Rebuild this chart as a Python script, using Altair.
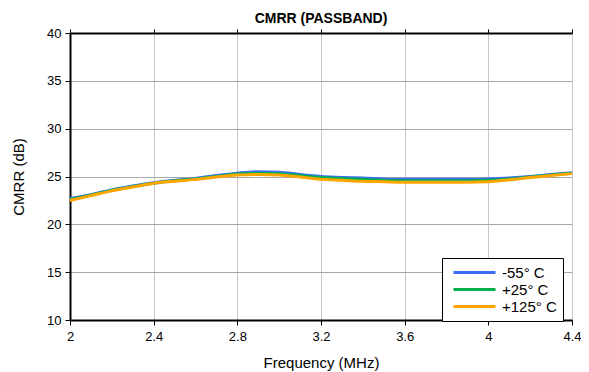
import altair as alt
import pandas as pd

freq = [2.0, 2.1, 2.2, 2.3, 2.4, 2.5, 2.6, 2.7, 2.8, 2.9, 3.0, 3.1, 3.2, 3.3, 3.4, 3.5,
        3.6, 3.7, 3.8, 3.9, 4.0, 4.1, 4.2, 4.3, 4.4]
cmrr_m55 = [22.7, 23.1, 23.6, 24.0, 24.35, 24.6, 24.8, 25.1, 25.35, 25.5, 25.45, 25.2, 25.0,
            24.9, 24.85, 24.75, 24.7, 24.7, 24.7, 24.7, 24.75, 24.85, 25.0, 25.2, 25.4]
cmrr_p25 = [22.6, 23.05, 23.55, 23.95, 24.3, 24.55, 24.75, 25.0, 25.25, 25.35, 25.3, 25.1, 24.9,
            24.8, 24.7, 24.6, 24.55, 24.55, 24.55, 24.55, 24.6, 24.75, 24.95, 25.15, 25.35]
cmrr_p125 = [22.5, 23.0, 23.5, 23.9, 24.3, 24.5, 24.7, 24.95, 25.15, 25.2, 25.15, 24.95, 24.7,
             24.6, 24.5, 24.45, 24.4, 24.4, 24.4, 24.4, 24.45, 24.65, 24.9, 25.1, 25.3]
series = ["-55° C", "+25° C", "+125° C"]
colors = ["#3d6cf5", "#00b050", "#ffa500"]
x_ticks = [2.0, 2.4, 2.8, 3.2, 3.6, 4.0, 4.4]
y_ticks = [10, 15, 20, 25, 30, 35, 40]

rows = []
for name, vals in zip(series, [cmrr_m55, cmrr_p25, cmrr_p125]):
    for f, v in zip(freq, vals):
        rows.append({"freq": f, "cmrr": v, "series": name})
df = pd.DataFrame(rows)

FONT = "Liberation Sans"

lines = alt.Chart(df).mark_line(strokeWidth=3, interpolate="monotone").encode(
    x=alt.X("freq:Q", scale=alt.Scale(domain=[2, 4.4], nice=False),
            axis=alt.Axis(values=x_ticks, format="~g", title="Frequency (MHz)",
                          grid=True, gridColor="#c8c8c8", gridWidth=1,
                          domainColor="black", domainWidth=2, tickColor="black",
                          tickSize=5, labelFontSize=13, titleFontSize=15,
                          labelFont=FONT, titleFont=FONT, titleFontWeight="normal",
                          labelColor="black", titleColor="black", labelPadding=5,
                          labelFlush=False, titlePadding=12)),
    y=alt.Y("cmrr:Q", scale=alt.Scale(domain=[10, 40], nice=False),
            axis=alt.Axis(values=y_ticks, title="CMRR (dB)", grid=True,
                          gridColor="#a8a8a8", gridWidth=1,
                          domainColor="black", domainWidth=2, tickColor="black",
                          tickSize=5, labelFontSize=13, titleFontSize=15,
                          labelFont=FONT, titleFont=FONT, titleFontWeight="normal",
                          labelColor="black", titleColor="black", labelPadding=4,
                          labelFlush=False, titlePadding=20)),
    color=alt.Color("series:N", sort=series,
                    scale=alt.Scale(domain=series, range=colors),
                    legend=alt.Legend(title=None, orient="none", legendX=372, legendY=225,
                                      symbolType="M-3,0L3,0", symbolStrokeWidth=3,
                                      symbolSize=196, labelFontSize=15, labelFont=FONT,
                                      labelColor="black", strokeColor="black",
                                      fillColor="white", padding=6, rowPadding=0,
                                      symbolOffset=18, labelOffset=19)),
    order=alt.Order("series:N")
)

top_ticks = alt.Chart(pd.DataFrame({"freq": x_ticks})).mark_tick(opacity=0).encode(
    x=alt.X("freq:Q", scale=alt.Scale(domain=[2, 4.4], nice=False),
            axis=alt.Axis(orient="top", values=x_ticks, labels=False, title=None,
                          grid=False, domainColor="black", domainWidth=2,
                          tickColor="black", tickSize=4))
)

chart = alt.layer(lines, top_ticks).resolve_axis(x="independent").properties(
    width=502, height=287,
    title=alt.TitleParams("CMRR (PASSBAND)", font=FONT, fontSize=14, fontWeight="bold",
                          color="black", anchor="middle", offset=1),
    autosize=alt.AutoSizeParams(type="none"),
    padding={"left": 62, "top": 25, "right": 9, "bottom": 52},
).configure_view(stroke="black", strokeWidth=2).configure(background="white")

chart.save("out.html", embed_options={"renderer": "svg", "actions": False})
